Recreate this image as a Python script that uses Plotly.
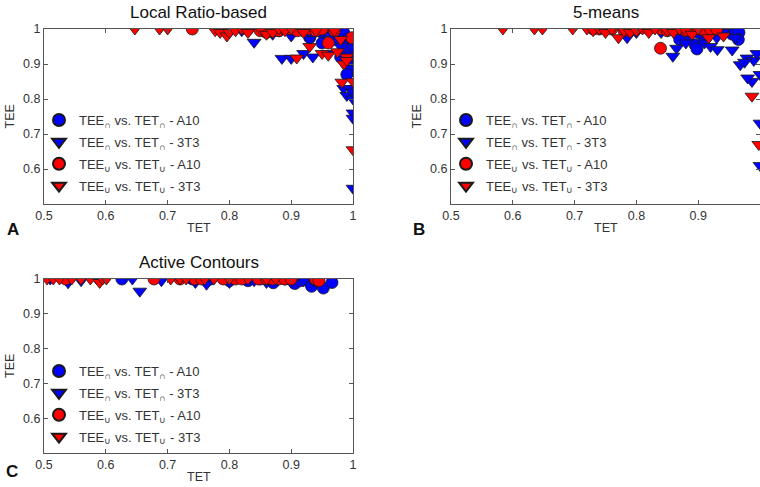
import plotly.graph_objects as go

# ---------------- data ----------------
titles = ["Local Ratio-based", "5-means", "Active Contours"]
panel_letters = ["A", "B", "C"]
series_names = [
    "TEE<sub>∩</sub> vs. TET<sub>∩</sub> - A10",
    "TEE<sub>∩</sub> vs. TET<sub>∩</sub> - 3T3",
    "TEE<sub>∪</sub> vs. TET<sub>∪</sub> - A10",
    "TEE<sub>∪</sub> vs. TET<sub>∪</sub> - 3T3",
]
x_ticks = [0.5, 0.6, 0.7, 0.8, 0.9, 1.0]
x_tick_labels = ["0.5", "0.6", "0.7", "0.8", "0.9", "1"]
y_ticks = [0.6, 0.7, 0.8, 0.9, 1.0]
y_tick_labels = ["0.6", "0.7", "0.8", "0.9", "1"]

# Panel A: Local Ratio-based
lr_cap_a10_x = [0.86, 0.88, 0.9, 0.92, 0.94, 0.95, 0.96, 0.97, 0.975, 0.98, 0.985, 0.99, 0.995, 1.0, 0.99, 0.995, 1.0, 0.985, 0.99, 0.995, 0.98, 0.99, 0.97, 0.93, 0.95]
lr_cap_a10_y = [1.0, 0.995, 1.0, 0.995, 1.0, 0.99, 0.995, 1.0, 0.995, 0.98, 0.99, 0.97, 0.96, 0.94, 0.93, 0.91, 0.95, 0.95, 0.90, 0.88, 0.92, 0.87, 0.97, 0.975, 0.96]
lr_cap_3t3_x = [0.82, 0.84, 0.86, 0.88, 0.885, 0.9, 0.92, 0.935, 0.95, 0.96, 0.97, 0.98, 0.985, 0.99, 0.995, 1.0, 1.0, 1.0, 1.0, 1.0, 0.9, 0.93, 0.87]
lr_cap_3t3_y = [0.995, 0.962, 0.99, 0.995, 0.916, 0.916, 0.93, 0.92, 0.99, 0.93, 0.995, 0.95, 0.83, 0.81, 0.83, 0.82, 0.80, 0.76, 0.745, 0.545, 0.98, 0.97, 0.985]
lr_cup_a10_x = [0.74, 0.83, 0.85, 0.86, 0.87, 0.88, 0.89, 0.9, 0.91, 0.92, 0.93, 0.94, 0.95, 0.96, 0.97, 0.998, 0.86]
lr_cup_a10_y = [1.0, 1.0, 0.995, 1.0, 1.0, 0.995, 1.0, 1.0, 0.995, 1.0, 1.0, 0.995, 1.0, 0.96, 0.995, 0.975, 0.99]
lr_cup_3t3_x = [0.647, 0.687, 0.70, 0.777, 0.785, 0.796, 0.80, 0.81, 0.82, 0.83, 0.85, 0.86, 0.87, 0.88, 0.89, 0.9, 0.909, 0.92, 0.93, 0.94, 0.95, 0.96, 0.97, 0.98, 0.99, 0.982, 1.0, 1.0, 0.985, 0.99, 0.975]
lr_cup_3t3_y = [1.0, 1.0, 1.0, 0.995, 0.99, 0.98, 0.99, 0.995, 1.0, 0.99, 1.0, 0.985, 0.99, 1.0, 0.995, 1.0, 0.917, 0.99, 0.95, 0.995, 0.93, 0.925, 0.995, 0.97, 0.92, 0.848, 0.85, 0.655, 0.9, 0.91, 0.935]

# Panel B: 5-means
km_cap_a10_x = [0.85, 0.87, 0.88, 0.895, 0.898, 0.91, 0.92, 0.93, 0.94, 0.95, 0.955, 0.96, 0.966, 0.965, 0.87, 0.9]
km_cap_a10_y = [1.0, 0.995, 0.975, 0.955, 0.943, 0.97, 0.99, 1.0, 0.995, 1.0, 0.985, 0.995, 0.99, 0.97, 0.97, 0.99]
km_cap_3t3_x = [0.785, 0.8, 0.82, 0.84, 0.859, 0.865, 0.88, 0.89, 0.91, 0.92, 0.931, 0.94, 0.955, 0.96, 0.968, 0.979, 0.99, 0.987, 0.98, 1.0, 1.0, 1.0, 0.995, 0.975, 0.93]
km_cap_3t3_y = [0.975, 0.99, 0.995, 0.99, 0.922, 0.945, 0.96, 0.985, 0.96, 0.95, 0.941, 0.99, 0.94, 0.975, 0.898, 0.917, 0.91, 0.85, 0.86, 0.87, 0.731, 0.61, 0.93, 0.905, 0.975]
km_cup_a10_x = [0.73, 0.74, 0.76, 0.78, 0.8, 0.82, 0.839, 0.84, 0.85, 0.86, 0.87, 0.88, 0.89, 0.9, 0.91, 0.92, 0.93]
km_cup_a10_y = [1.0, 1.0, 1.0, 0.995, 1.0, 1.0, 0.945, 1.0, 0.995, 1.0, 1.0, 0.995, 1.0, 1.0, 0.995, 1.0, 1.0]
km_cup_3t3_x = [0.584, 0.635, 0.648, 0.697, 0.72, 0.73, 0.74, 0.75, 0.76, 0.771, 0.78, 0.79, 0.8, 0.81, 0.82, 0.83, 0.85, 0.86, 0.87, 0.88, 0.89, 0.9, 0.917, 0.941, 0.987, 0.998]
km_cup_3t3_y = [1.0, 1.0, 1.0, 1.0, 1.0, 0.995, 1.0, 0.99, 1.0, 0.975, 0.995, 0.99, 0.995, 1.0, 0.99, 1.0, 0.995, 0.99, 1.0, 0.995, 0.985, 1.0, 0.975, 0.98, 0.808, 0.67]

# Panel C: Active Contours
ac_cap_a10_x = [0.59, 0.626, 0.74, 0.76, 0.77, 0.8, 0.83, 0.85, 0.871, 0.89, 0.906, 0.915, 0.93, 0.933, 0.952, 0.966, 0.94]
ac_cap_a10_y = [1.0, 1.0, 1.0, 1.0, 1.0, 0.995, 0.995, 1.0, 0.989, 1.0, 0.987, 0.995, 0.99, 0.979, 0.974, 0.99, 0.995]
ac_cap_3t3_x = [0.51, 0.539, 0.56, 0.643, 0.655, 0.69, 0.745, 0.763, 0.8, 0.84, 0.86, 0.9, 0.92]
ac_cap_3t3_y = [1.0, 0.989, 0.995, 1.0, 0.965, 0.995, 0.99, 0.985, 0.99, 0.995, 0.99, 0.99, 0.995]
ac_cup_a10_x = [0.535, 0.678, 0.72, 0.744, 0.755, 0.79, 0.81, 0.82, 0.847, 0.86, 0.87, 0.88, 0.89, 0.9, 0.939, 0.945]
ac_cup_a10_y = [1.0, 1.0, 1.0, 1.0, 1.0, 1.0, 1.0, 1.0, 1.0, 1.0, 1.0, 1.0, 1.0, 1.0, 1.0, 0.995]
ac_cup_3t3_x = [0.505, 0.515, 0.525, 0.545, 0.56, 0.575, 0.59, 0.595, 0.601, 0.705, 0.72, 0.73, 0.76, 0.775, 0.8, 0.83, 0.86, 0.875]
ac_cup_3t3_y = [1.0, 1.0, 1.0, 1.0, 1.0, 1.0, 0.99, 1.0, 1.0, 1.0, 1.0, 1.0, 1.0, 1.0, 1.0, 1.0, 1.0, 1.0]

panels = [
    [(lr_cap_a10_x, lr_cap_a10_y), (lr_cap_3t3_x, lr_cap_3t3_y), (lr_cup_a10_x, lr_cup_a10_y), (lr_cup_3t3_x, lr_cup_3t3_y)],
    [(km_cap_a10_x, km_cap_a10_y), (km_cap_3t3_x, km_cap_3t3_y), (km_cup_a10_x, km_cup_a10_y), (km_cup_3t3_x, km_cup_3t3_y)],
    [(ac_cap_a10_x, ac_cap_a10_y), (ac_cap_3t3_x, ac_cap_3t3_y), (ac_cup_a10_x, ac_cup_a10_y), (ac_cup_3t3_x, ac_cup_3t3_y)],
]

# ---------------- styling / layout ----------------
W, H = 760, 487
colors = ["#0000ff", "#0000ff", "#ff0000", "#ff0000"]
symbols = ["circle", "triangle-down", "circle", "triangle-down"]
FONT = "Liberation Sans, Arial, sans-serif"

# plot boxes in pixels: (left, right, top, bottom)
boxes = [(44, 353, 29, 204), (451, 760, 29, 204), (44, 353, 279, 453)]
legend_pos = [(39, 105), (446, 105), (39, 356)]
letter_pos = [(13, 229), (419, 229), (12, 471)]

fig = go.Figure()
legend_ids = ["legend", "legend2", "legend3"]

for p, series in enumerate(panels):
    ax = "" if p == 0 else str(p + 1)
    for s, (xs, ys) in enumerate(series):
        fig.add_trace(go.Scatter(
            x=xs, y=ys, mode="markers", name=series_names[s],
            xaxis="x" + ax, yaxis="y" + ax, legend=legend_ids[p],
            legendgroup="g%d_%d" % (p, s),
            marker=dict(color=colors[s], symbol=symbols[s], size=12,
                        line=dict(color="#1a1a1a", width=0.8)),
        ))

axis_common = dict(showline=True, linecolor="#555", linewidth=1, mirror="ticks",
                   ticks="inside", ticklen=4, tickcolor="#555", showgrid=False,
                   zeroline=False, automargin=False,
                   tickfont=dict(family=FONT, size=12.5, color="#333"))

layout = dict(width=W, height=H, margin=dict(l=0, r=0, t=0, b=0, autoexpand=False),
              paper_bgcolor="white", plot_bgcolor="white", font=dict(family=FONT),
              annotations=[])

def ann(text, x, y, size, color, bold=False, angle=0):
    return dict(text=("<b>%s</b>" % text) if bold else text, x=x / W, y=1 - y / H,
                xref="paper", yref="paper", xanchor="center", yanchor="middle",
                showarrow=False, textangle=angle,
                font=dict(family=FONT, size=size, color=color))

for p, (l, r, t, b) in enumerate(boxes):
    ax = "" if p == 0 else str(p + 1)
    layout["xaxis" + ax] = dict(axis_common, domain=[l / W, r / W], range=[0.5, 1.0],
                                tickvals=x_ticks, ticktext=x_tick_labels,
                                anchor="y" + ax)
    layout["yaxis" + ax] = dict(axis_common, domain=[1 - b / H, 1 - t / H], range=[0.5, 1.0],
                                tickvals=y_ticks, ticktext=y_tick_labels,
                                anchor="x" + ax)
    cx = (l + r) / 2
    layout["annotations"] += [
        ann(titles[p], cx, t - 17, 17, "#111"),
        ann("TET", cx, b + 24, 12.5, "#333"),
        ann("TEE", l - 34, (t + b) / 2, 12.5, "#333", angle=-90),
        ann(panel_letters[p], letter_pos[p][0], letter_pos[p][1], 17, "#111", bold=True),
    ]
    lx, ly = legend_pos[p]
    layout[legend_ids[p]] = dict(x=lx / W, y=1 - ly / H, xanchor="left", yanchor="top",
                                 bgcolor="rgba(0,0,0,0)", borderwidth=0,
                                 font=dict(family=FONT, size=13, color="#333"),
                                 tracegroupgap=2, itemsizing="constant")

fig.update_layout(**layout)
fig.write_html("out.html", config={"displayModeBar": False},
               post_script="document.body.style.margin='0';document.body.style.overflow='hidden';")
